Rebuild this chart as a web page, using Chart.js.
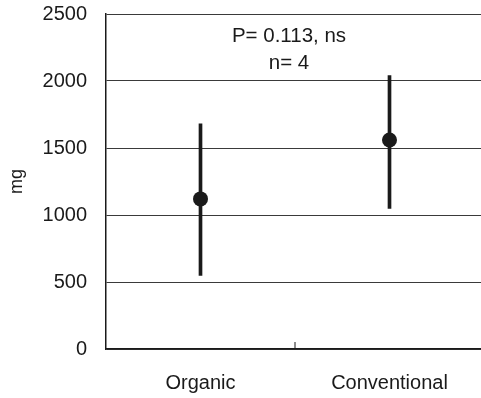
<!DOCTYPE html>
<html>
<head>
<meta charset="utf-8">
<script src="https://cdn.jsdelivr.net/npm/chart.js@4.4.1/dist/chart.umd.min.js"></script>
<style>
    html, body { margin: 0; padding: 0; background: #fff; overflow: hidden; }
    #wrap { width: 484px; height: 398px; }
</style>
</head>
<body>
<div id="wrap"><canvas id="chart"></canvas></div>
<script>
/* =====================================
   Data
===================================== */
const categories = ["Organic", "Conventional"];
const means = [1120, 1560];
const lows = [550, 1050];
const highs = [1680, 2040];
const yTicks = [0, 500, 1000, 1500, 2000, 2500];
const noteLines = ["P= 0.113, ns", "n= 4"];

const FONT = "'Liberation Sans', Arial, sans-serif";
const INK = "#1a1a1a";

/* =====================================
   Annotation + middle tick plugin
===================================== */
const extras = {
    id: "extras",
    afterDraw(chart) {
        const ctx = chart.ctx;
        const x = chart.scales.x;
        const y = chart.scales.y;
        const mid = x.getPixelForValue(0.5);

        // small tick between the categories
        ctx.save();
        ctx.strokeStyle = INK;
        ctx.lineWidth = 1;
        ctx.beginPath();
        ctx.moveTo(mid, y.bottom);
        ctx.lineTo(mid, y.bottom - 7);
        ctx.stroke();

        // P value text
        ctx.fillStyle = INK;
        ctx.font = "20.5px " + FONT;
        ctx.textAlign = "center";
        ctx.textBaseline = "middle";
        ctx.fillText(noteLines[0], mid - 6, y.getPixelForValue(2335));
        ctx.fillText(noteLines[1], mid - 6, y.getPixelForValue(2135));
        ctx.restore();
    }
};

/* =====================================
   Chart
===================================== */
const ctx = document.getElementById("chart");

new Chart(ctx, {
    data: {
        labels: categories,
        datasets: [
            {
                type: "line",
                label: "Mean",
                data: means,
                showLine: false,
                pointRadius: 7.5,
                pointHoverRadius: 7.5,
                pointBackgroundColor: INK,
                pointBorderWidth: 0,
                order: 0
            },
            {
                type: "bar",
                label: "Range",
                data: lows.map((v, i) => [v, highs[i]]),
                backgroundColor: INK,
                barThickness: 3,
                grouped: false,
                order: 1
            }
        ]
    },
    options: {
        responsive: true,
        maintainAspectRatio: false,
        animation: false,
        layout: { autoPadding: false, padding: { top: 14, left: 0, right: 0, bottom: 0 } },
        plugins: {
            legend: { display: false },
            tooltip: { enabled: false }
        },
        scales: {
            x: {
                offset: true,
                grid: { display: false },
                border: { color: INK, width: 1.5 },
                ticks: {
                    color: INK,
                    padding: 14,
                    font: { family: FONT, size: 20 }
                },
                afterFit(scale) { scale.height = 49; }
            },
            y: {
                min: 0,
                max: 2500,
                afterBuildTicks(scale) {
                    scale.ticks = yTicks.map(v => ({ value: v }));
                },
                grid: { color: "#3a3a3a", lineWidth: 1, drawTicks: false },
                border: { color: INK, width: 1.5 },
                ticks: {
                    color: INK,
                    padding: 19,
                    font: { family: FONT, size: 20 },
                    callback: v => String(v)
                },
                title: {
                    display: true,
                    text: "mg",
                    color: INK,
                    padding: { top: 6, bottom: 0 },
                    font: { family: FONT, size: 18 }
                },
                afterFit(scale) {
                    scale.width = 106;
                    scale.paddingTop = 0;
                    scale.paddingBottom = 0;
                }
            }
        }
    },
    plugins: [extras]
});
</script>
</body>
</html>
